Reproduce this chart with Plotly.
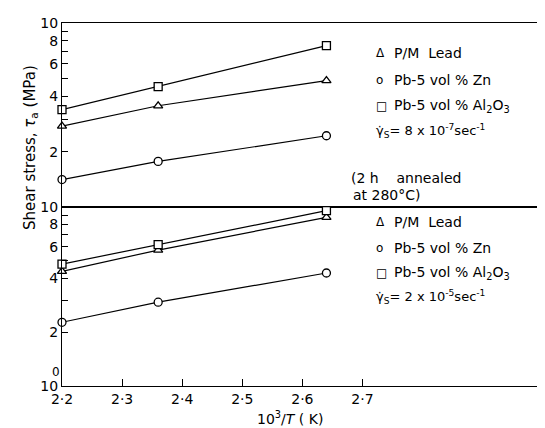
import plotly.graph_objects as go
from plotly.subplots import make_subplots

x_vals = [2.2, 2.36, 2.64]

# Top panel (strain rate 8e-7 /s)
top_pm_lead = [2.75, 3.55, 4.86]
top_zn = [1.41, 1.77, 2.44]
top_al2o3 = [3.38, 4.51, 7.53]

# Bottom panel (strain rate 2e-5 /s)
bot_pm_lead = [4.37, 5.75, 8.76]
bot_zn = [2.27, 2.94, 4.28]
bot_al2o3 = [4.80, 6.16, 9.54]

x_ticks = [2.2, 2.3, 2.4, 2.5, 2.6, 2.7]
x_ticktext = ["2·2", "2·3", "2·4", "2·5", "2·6", "2·7"]
top_yticks = [2, 3, 4, 5, 6, 7, 8, 9, 10]
top_ytext = ["2", "", "4", "", "6", "", "8", "", "10"]
bot_yticks = [1, 2, 3, 4, 5, 6, 7, 8, 9, 10]
bot_ytext = ["10", "2", "", "4", "", "6", "", "8", "", "10"]

fig = make_subplots(rows=2, cols=1, shared_xaxes=True, vertical_spacing=0)

def add(series, sym, row):
    fig.add_trace(go.Scatter(
        x=x_vals, y=series, mode="lines+markers",
        line=dict(color="black", width=1.2),
        marker=dict(symbol=sym, size=8, color="white",
                    line=dict(color="black", width=1.3)),
        showlegend=False, cliponaxis=False), row=row, col=1)

add(top_zn, "circle", 1)
add(top_pm_lead, "triangle-up", 1)
add(top_al2o3, "square", 1)
add(bot_zn, "circle", 2)
add(bot_pm_lead, "triangle-up", 2)
add(bot_al2o3, "square", 2)

font = dict(family="DejaVu Sans", size=14, color="black")
common_x = dict(range=[2.2, 3.012], showline=True, linecolor="black", linewidth=1.3,
                mirror=True, ticks="inside", ticklen=7, tickcolor="black",
                tickvals=x_ticks, ticktext=x_ticktext, showgrid=False, zeroline=False,
                tickfont=font, automargin=False)
fig.update_xaxes(**common_x)
fig.update_xaxes(showticklabels=False, ticks="", row=1, col=1)

common_y = dict(type="log", range=[0, 1], showline=True, linecolor="black", linewidth=1.3,
                mirror=True, ticks="inside", ticklen=6, tickcolor="black",
                showgrid=False, zeroline=False, tickfont=font, automargin=False)
fig.update_yaxes(**common_y, tickvals=top_yticks, ticktext=top_ytext, row=1, col=1)
fig.update_yaxes(**common_y, tickvals=bot_yticks, ticktext=bot_ytext, row=2, col=1)

fig.layout.yaxis.domain = [0.493, 1.0]
fig.layout.yaxis2.domain = [0.0, 0.493]

ann = []
def txt(x, y, s, size=14, xanchor="left"):
    ann.append(dict(x=x, y=y, xref="paper", yref="paper", text=s, showarrow=False,
                    xanchor=xanchor, yanchor="middle", font=dict(family="DejaVu Sans", size=size, color="black")))

# paper coords helpers: plot area l=54, r=3, t=15, b=50 -> width 488, height 363
def px(xp):
    return (xp - 54) / 488.0
def py(yp):
    return 1 - (yp - 15) / 363.0

legend_top = [(45, "Δ", "P/M  Lead"), (72, "o", "Pb-5 vol % Zn"),
              (98, "□", "Pb-5 vol % Al<sub>2</sub>O<sub>3</sub>")]
for yy, sym, lab in legend_top:
    txt(px(366), py(yy), sym, 12)
    txt(px(384), py(yy), lab, 14)
txt(px(366), py(123), "γ̇<sub>S</sub>= 8 x 10<sup>-7</sup>sec<sup>-1</sup>", 13)
txt(px(341), py(170), "(2 h    annealed", 14)
txt(px(343), py(187), "at 280°C)", 14)

legend_bot = [(214, "Δ", "P/M  Lead"), (240, "o", "Pb-5 vol % Zn"),
              (265, "□", "Pb-5 vol % Al<sub>2</sub>O<sub>3</sub>")]
for yy, sym, lab in legend_bot:
    txt(px(366), py(yy), sym, 12)
    txt(px(384), py(yy), lab, 14)
txt(px(366), py(289), "γ̇<sub>S</sub>= 2 x 10<sup>-5</sup>sec<sup>-1</sup>", 13)

# axis titles
txt(px(282), py(410), "10<sup>3</sup>/<i>T</i> ( K)", 14, xanchor="center")
ann.append(dict(x=px(22), y=py(140), xref="paper", yref="paper",
                text="Shear stress, <i>τ</i><sub>a</sub> (MPa)", showarrow=False,
                textangle=-90, xanchor="center", yanchor="middle",
                font=dict(family="DejaVu Sans", size=15, color="black")))
txt(px(48), py(364), "0", 12, xanchor="center")

fig.update_layout(width=545, height=428, margin=dict(l=54, r=3, t=15, b=50),
                  plot_bgcolor="white", paper_bgcolor="white", annotations=ann,
                  font=font)

fig.write_html("out.html")
